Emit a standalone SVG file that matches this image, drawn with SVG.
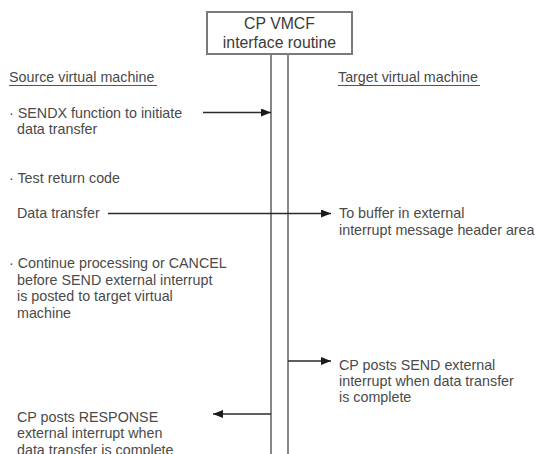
<svg xmlns="http://www.w3.org/2000/svg" width="539" height="454" viewBox="0 0 539 454">
<defs>
<style>
text{font-family:"Liberation Sans",Arial,sans-serif;font-size:14.3px;fill:#4a4a4a}
.box{fill:#fff;stroke:#7a7a7a;stroke-width:2}
.title{font-size:15.8px;text-anchor:middle;fill:#3a3a3a}
.life{stroke:#6a6a6a;stroke-width:1.6;fill:none}
.conn{stroke:#2a2a2a;stroke-width:1.4;fill:none}
.ul{stroke:#555;stroke-width:1}
</style>
<marker id="ah" viewBox="0 0 10 8" refX="10" refY="4" markerWidth="10" markerHeight="8" markerUnits="userSpaceOnUse" orient="auto">
<path d="M0,0 L10,4 L0,8 Z" fill="#1a1a1a"/>
</marker>
</defs>
<rect width="539" height="454" fill="#fff"/>
<g id="cp-routine">
<line class="life" x1="271" y1="54" x2="271" y2="454"/>
<line class="life" x1="288" y1="54" x2="288" y2="454"/>
<rect class="box" x="207" y="12" width="145" height="42"/>
<text class="title" x="279.5" y="28.5">CP VMCF</text>
<text class="title" x="279.5" y="48">interface routine</text>
</g>
<g id="source-header">
<text x="9" y="82">Source virtual machine</text>
<line class="ul" x1="9" y1="85.5" x2="157" y2="85.5"/>
</g>
<g id="target-header">
<text x="338" y="82">Target virtual machine</text>
<line class="ul" x1="338" y1="85.5" x2="480" y2="85.5"/>
</g>
<g id="sendx">
<text x="9" y="118">· SENDX function to initiate</text>
<text x="17" y="133.5">data transfer</text>
</g>
<g id="test-rc">
<text x="9" y="183">· Test return code</text>
</g>
<g id="data-transfer">
<text x="17" y="218">Data transfer</text>
</g>
<g id="to-buffer">
<text x="339" y="218">To buffer in external</text>
<text x="339" y="235">interrupt message header area</text>
</g>
<g id="continue">
<text x="9" y="268">· Continue processing or CANCEL</text>
<text x="17" y="285">before SEND external interrupt</text>
<text x="17" y="301">is posted to target virtual</text>
<text x="17" y="318">machine</text>
</g>
<g id="cp-send">
<text x="339" y="370">CP posts SEND external</text>
<text x="339" y="386">interrupt when data transfer</text>
<text x="339" y="402">is complete</text>
</g>
<g id="cp-response">
<text x="17" y="421.5">CP posts RESPONSE</text>
<text x="17" y="438">external interrupt when</text>
<text x="17" y="454.5">data transfer is complete</text>
</g>
<g id="connectors">
<line class="conn" x1="203" y1="112.5" x2="271" y2="112.5" marker-end="url(#ah)"/>
<line class="conn" x1="108" y1="213.5" x2="331" y2="213.5" marker-end="url(#ah)"/>
<line class="conn" x1="288" y1="361" x2="331" y2="361" marker-end="url(#ah)"/>
<line class="conn" x1="271" y1="414" x2="213" y2="414" marker-end="url(#ah)"/>
</g>
</svg>
